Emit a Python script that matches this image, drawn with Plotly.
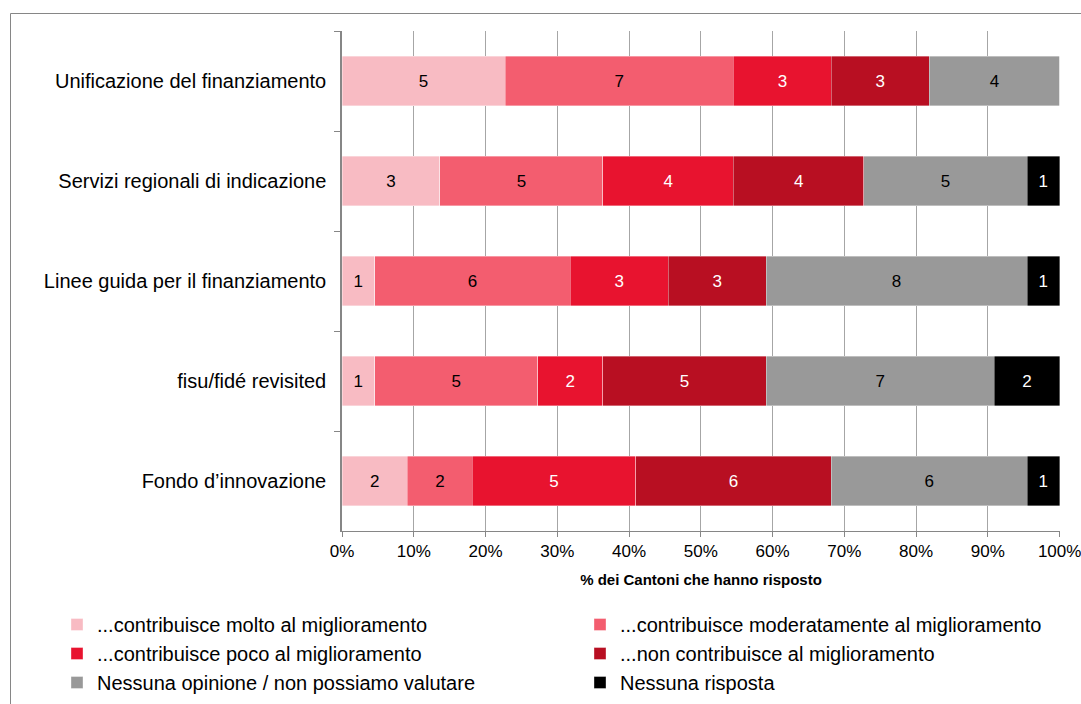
import plotly.graph_objects as go

categories = [
    "Unificazione del finanziamento",
    "Servizi regionali di indicazione",
    "Linee guida per il finanziamento",
    "fisu/fidé revisited",
    "Fondo d’innovazione",
]
series_names = [
    "...contribuisce molto al miglioramento",
    "...contribuisce moderatamente al miglioramento",
    "...contribuisce poco al miglioramento",
    "...non contribuisce al miglioramento",
    "Nessuna opinione / non possiamo valutare",
    "Nessuna risposta",
]
molto = [5, 3, 1, 1, 2]
moderatamente = [7, 5, 6, 5, 2]
poco = [3, 4, 3, 2, 5]
non_contribuisce = [3, 4, 3, 5, 6]
nessuna_opinione = [4, 5, 8, 7, 6]
nessuna_risposta = [0, 1, 1, 2, 1]
x_ticks = [0, 10, 20, 30, 40, 50, 60, 70, 80, 90, 100]

series_values = [molto, moderatamente, poco, non_contribuisce, nessuna_opinione, nessuna_risposta]
colors = ["#F8BBC3", "#F35D6F", "#E8132F", "#B80F22", "#999999", "#000000"]
text_colors = ["#000000", "#000000", "#FFFFFF", "#FFFFFF", "#000000", "#FFFFFF"]
legend_ids = ["legend", "legend2", "legend", "legend2", "legend", "legend2"]

FONT = "Liberation Sans, Arial, sans-serif"
W, H = 1081, 704
L, R, T, B = 342, 21, 31, 173

fig = go.Figure()
for name, vals, col, tcol, lg in zip(series_names, series_values, colors, text_colors, legend_ids):
    fig.add_trace(go.Bar(
        y=categories, x=vals, orientation="h", name=name,
        marker=dict(color=col, line=dict(color="rgba(255,255,255,0.6)", width=0.6)),
        text=[str(v) if v else "" for v in vals],
        textposition="inside", insidetextanchor="middle",
        textfont=dict(family=FONT, size=17, color=tcol),
        legend=lg, hoverinfo="skip",
    ))

pw, ph = W - L - R, H - T - B
def px2x(p):
    return (p - L) / pw
def py2y(p):
    return (H - B - p) / ph

fig.add_shape(type="rect", xref="paper", yref="paper",
              x0=px2x(10.5), x1=px2x(1095), y0=py2y(13.5), y1=py2y(720),
              line=dict(color="#868686", width=1), fillcolor="rgba(0,0,0,0)", layer="below")

fig.update_layout(
    width=W, height=H,
    margin=dict(l=L, r=R, t=T, b=B, autoexpand=False),
    barmode="stack", barnorm="percent", bargap=0.505,
    plot_bgcolor="white", paper_bgcolor="white",
    font=dict(family=FONT, size=17, color="#000000"),
    xaxis=dict(
        range=[0, 100.05], tickvals=x_ticks, ticktext=[f"{v}%" for v in x_ticks],
        showgrid=True, gridcolor="#A6A6A6", gridwidth=1,
        showline=True, linecolor="#868686", linewidth=1,
        ticks="outside", ticklen=5, tickcolor="#868686",
        tickfont=dict(size=17, family=FONT), automargin=False,
        ticklabeloverflow="allow",
        title=dict(text="<b>% dei Cantoni che hanno risposto</b>",
                   font=dict(size=15, family=FONT), standoff=14),
        zeroline=False,
    ),
    yaxis=dict(
        autorange="reversed", tickson="boundaries", automargin=False,
        showgrid=False, showline=True, linecolor="#868686", linewidth=1.5,
        ticks="outside", ticklen=6, tickcolor="#868686", ticklabelstandoff=10,
        tickfont=dict(size=20, family=FONT),
    ),
    legend=dict(
        orientation="v", xref="container", yref="container",
        x=57 / W, y=1 - 605 / H, xanchor="left", yanchor="top",
        font=dict(size=20, family=FONT), traceorder="normal",
        bgcolor="rgba(0,0,0,0)",
    ),
    legend2=dict(
        orientation="v", xref="container", yref="container",
        x=580 / W, y=1 - 605 / H, xanchor="left", yanchor="top",
        font=dict(size=20, family=FONT), traceorder="normal",
        bgcolor="rgba(0,0,0,0)",
    ),
)

fig.write_html("out.html")
